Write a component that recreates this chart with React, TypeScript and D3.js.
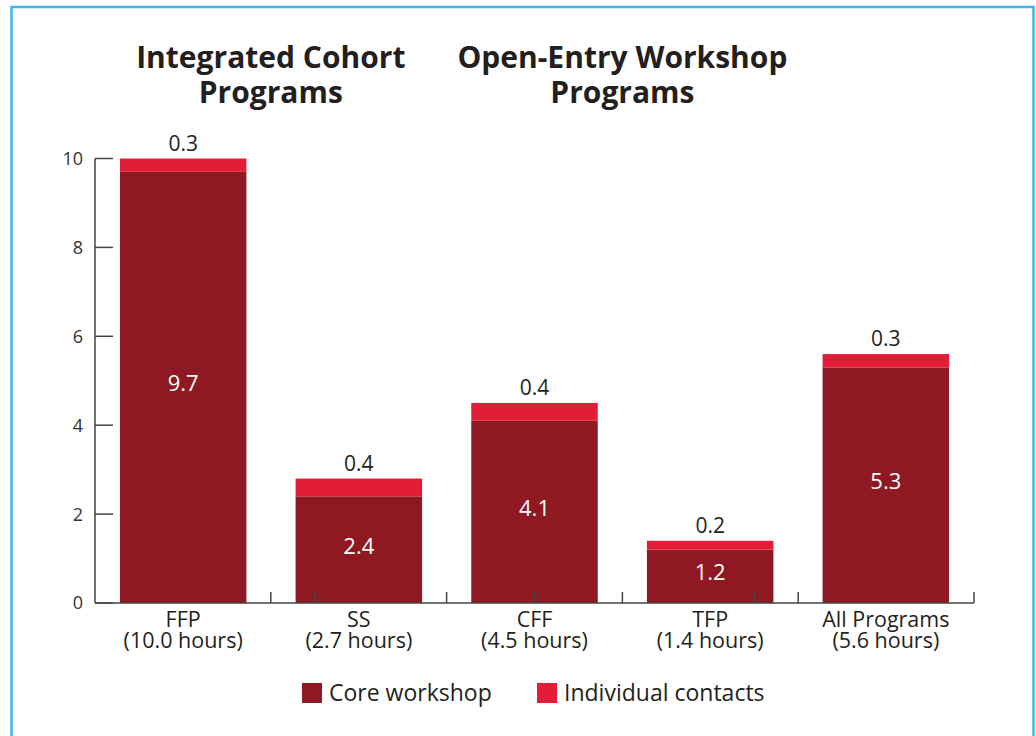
import * as d3 from "d3";

const categories = ["FFP", "SS", "CFF", "TFP", "All Programs"];
const hourLabels = ["(10.0 hours)", "(2.7 hours)", "(4.5 hours)", "(1.4 hours)", "(5.6 hours)"];
const coreWorkshop = [9.7, 2.4, 4.1, 1.2, 5.3];
const individualContacts = [0.3, 0.4, 0.4, 0.2, 0.3];
const yTicks = [0, 2, 4, 6, 8, 10];
// x-axis tick marks, in bar-step units from the left of the axis
const xTickUnits = [1, 1.25, 2, 2.5, 3, 3.75, 4, 5];
const cohortTitle = ["Integrated Cohort", "Programs"];
const workshopTitle = ["Open-Entry Workshop", "Programs"];
const seriesNames = ["Core workshop", "Individual contacts"];

const W = 1036;
const H = 736;
const colors = ["#8e1922", "#e41d37"];
const ink = "#231f20";
const font = "'Open Sans', Lato, sans-serif";

const rows = categories.map((c, i) => ({
  cat: c,
  core: coreWorkshop[i],
  indiv: individualContacts[i],
}));

export default function App() {
  const left = 95;
  const right = 974;
  const y0 = 603;
  const yTop = 158.5;

  const x = d3
    .scaleBand<string>()
    .domain(categories)
    .range([left, right])
    .paddingInner(0.28)
    .paddingOuter(0.142);

  const unit = d3.scaleLinear().domain([0, categories.length]).range([left, right]);

  const y = d3.scaleLinear().domain([0, 10]).range([y0, yTop]);

  const stacked = d3.stack<any>().keys(["core", "indiv"])(rows);

  const titles = [
    { lines: cohortTitle, at: 1 },
    { lines: workshopTitle, at: 3 },
  ];

  return (
    <svg
      width={W}
      height={H}
      style={{ position: "absolute", left: 0, top: 0, background: "#fff" }}
      fontFamily={font}
    >
      {/* frame */}
      <rect x={11.5} y={7} width={1022} height={800} fill="none" stroke="#3db7e4" strokeWidth={2.5} />

      {/* group titles */}
      {titles.map((t, i) =>
        t.lines.map((l, j) => (
          <text
            key={`${i}-${j}`}
            x={unit(t.at)}
            y={68 + j * 35}
            textAnchor="middle"
            fontWeight={700}
            fontSize={30}
            fill={ink}
          >
            {l}
          </text>
        ))
      )}

      {/* bars */}
      {stacked.map((s, si) => (
        <g key={si} fill={colors[si]}>
          {s.map((d, i) => (
            <rect
              key={i}
              x={x(categories[i])}
              y={y(d[1])}
              width={x.bandwidth()}
              height={y(d[0]) - y(d[1])}
            />
          ))}
        </g>
      ))}

      {/* core labels inside */}
      {stacked[0].map((d, i) => (
        <text
          key={i}
          x={(x(categories[i]) as number) + x.bandwidth() / 2}
          y={(y(d[0]) + y(d[1])) / 2 + 4}
          textAnchor="middle"
          fontSize={22}
          fill="#fff"
        >
          {coreWorkshop[i]}
        </text>
      ))}

      {/* individual labels above */}
      {stacked[1].map((d, i) => (
        <text
          key={i}
          x={(x(categories[i]) as number) + x.bandwidth() / 2}
          y={y(d[1]) - 8}
          textAnchor="middle"
          fontSize={21}
          fill={ink}
        >
          {individualContacts[i]}
        </text>
      ))}

      {/* y axis */}
      <line x1={left} x2={left} y1={yTop} y2={y0} stroke="#444" strokeWidth={1.5} />
      {yTicks.map((t) => (
        <g key={t}>
          <line x1={left} x2={left + 18} y1={y(t)} y2={y(t)} stroke="#444" strokeWidth={1.5} />
          <text x={83} y={y(t)} dy="0.36em" textAnchor="end" fontSize={18} fill="#333">
            {t}
          </text>
        </g>
      ))}

      {/* x axis */}
      <line x1={left} x2={right} y1={y0} y2={y0} stroke="#444" strokeWidth={1.5} />
      {xTickUnits.map((u) => (
        <line key={u} x1={unit(u)} x2={unit(u)} y1={y0} y2={y0 - 11} stroke="#444" strokeWidth={1.5} />
      ))}
      {categories.map((c, i) => {
        const cx = (x(c) as number) + x.bandwidth() / 2;
        return (
          <g key={c} fontSize={21.5} fill={ink} textAnchor="middle">
            <text x={cx} y={627}>{c}</text>
            <text x={cx} y={648}>{hourLabels[i]}</text>
          </g>
        );
      })}

      {/* legend */}
      {seriesNames.map((n, i) => {
        const lx = [302, 537][i];
        return (
          <g key={n}>
            <rect x={lx} y={683} width={20} height={20} fill={colors[i]} />
            <text x={lx + 27} y={701} fontSize={23} fill={ink}>
              {n}
            </text>
          </g>
        );
      })}
    </svg>
  );
}
